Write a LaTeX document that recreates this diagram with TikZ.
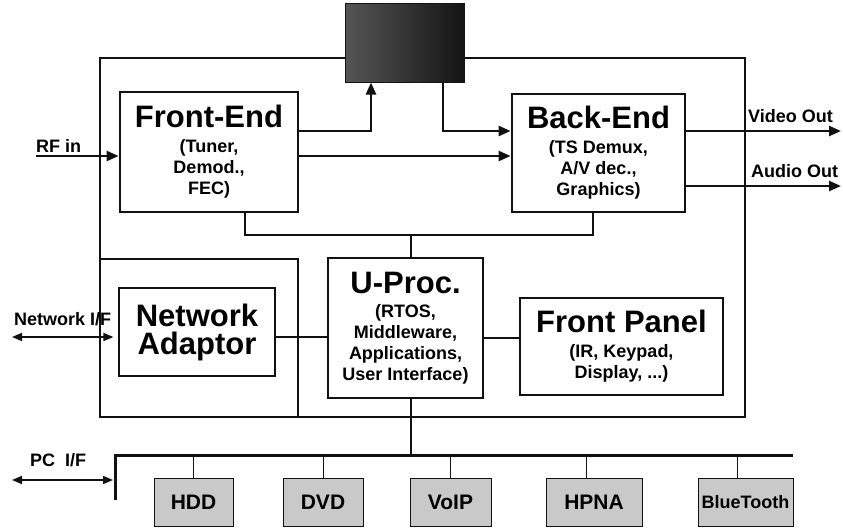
\documentclass[tikz,border=0pt]{standalone}
\usepackage{fontspec}
\setmainfont{Liberation Sans}
\usepackage{tikz}
\usetikzlibrary{arrows.meta, positioning}
\definecolor{screendark}{HTML}{141414}
\definecolor{screenlight}{HTML}{555555}
\definecolor{devgray}{HTML}{C9C9C9}
\definecolor{frameblack}{HTML}{111111}
\newcommand{\blkhead}[1]{{\fontsize{31}{31}\selectfont #1}}

\begin{document}
\begin{tikzpicture}[
  x=1pt, y=-1pt,
  every node/.style={font=\fontsize{18}{21}\selectfont\bfseries, align=center, inner sep=0pt},
  mainblock/.style={draw=frameblack, line width=2.8pt, fill=white},
  plainblock/.style={draw=frameblack, line width=1.2pt, fill=white},
  screenbox/.style={draw=screendark, line width=1pt, left color=screenlight, right color=screendark},
  devbox/.style={draw=frameblack, line width=1pt, fill=devgray, minimum height=48pt,
                 font=\fontsize{21}{21}\selectfont\bfseries},
  frameline/.style={draw=frameblack, line width=1.2pt},
  wire/.style={draw=frameblack, line width=2.4pt},
  bus/.style={draw=frameblack, line width=3pt},
  tap/.style={draw=frameblack, line width=1pt},
  arr/.style={wire, -{Triangle[length=12pt,width=10pt]}},
  ioarr/.style={draw=frameblack, line width=1.6pt,
                {Triangle[length=10pt,width=8pt]}-{Triangle[length=10pt,width=8pt]}},
  lbl/.style={font=\fontsize{18}{18}\selectfont\bfseries, anchor=base west}
]
\useasboundingbox (0,0) rectangle (843,528);

% set-top box outline
\draw[frameline] (100,58) rectangle (745,417);
\draw[frameline] (100,259) -| (298,417);

% blocks
\node[screenbox, minimum width=119pt, minimum height=79pt] (screen) at (404.5,42.5) {};
\node[mainblock, minimum width=178pt, minimum height=120pt] (fe) at (209,152)
  {\blkhead{Front-End}\\[4pt](Tuner,\\Demod.,\\FEC)};
\node[mainblock, minimum width=173pt, minimum height=118pt] (be) at (598.5,153)
  {\blkhead{Back-End}\\[4pt](TS Demux,\\A/V dec.,\\Graphics)};
\node[mainblock, minimum width=155pt, minimum height=140pt] (up) at (405.5,328)
  {\blkhead{U-Proc.}\\[3pt](RTOS,\\Middleware,\\Applications,\\User Interface)};
\node[plainblock, minimum width=156pt, minimum height=88pt,
      font=\fontsize{31}{28}\selectfont\bfseries] (na) at (197,332)
  {Network\\Adaptor};
\node[mainblock, minimum width=203pt, minimum height=97pt] (fp) at (621.5,346.5)
  {\blkhead{Front Panel}\\[4pt](IR, Keypad,\\Display, ...)};

% peripherals
\node[devbox, minimum width=79pt] (hdd) at (193.5,502) {HDD};
\node[devbox, minimum width=80pt] (dvd) at (323,502) {DVD};
\node[devbox, minimum width=81pt] (voip) at (450.5,502) {VoIP};
\node[devbox, minimum width=96pt] (hpna) at (594,502) {HPNA};
\node[devbox, minimum width=95pt, font=\fontsize{18}{18}\selectfont\bfseries] (bt) at (745.5,502) {BlueTooth};

% free ends
\coordinate (rfin) at (36,156);
\coordinate (vout) at (841,131);
\coordinate (aout) at (841,186);
\coordinate (netif) at (12,337);
\coordinate (pcif) at (12,480);
\coordinate (jn) at (411,235);
\coordinate (busL) at (115,455);
\coordinate (busR) at (793,455);
\coordinate (busB) at (115,500);

% labels
\node[lbl] (rflbl) at (36,152) {RF in};
\node[lbl] (vlbl) at (748,122) {Video Out};
\node[lbl] (albl) at (751,177) {Audio Out};
\node[lbl] (nlbl) at (14,325) {Network I/F};
\node[lbl] (pclbl) at (30,466) {PC\ \ I/F};

% signal path
\draw[arr] (rfin) -- (rfin -| fe.west);
\draw[arr] ([yshift=21pt]fe.east) -| ([xshift=-33.5pt]screen.south);
\draw[arr] ([xshift=38.5pt]screen.south) |- ([yshift=22pt]be.west);
\draw[arr] ([yshift=-4pt]fe.east) -- ([yshift=-4pt]fe.east -| be.west);
\draw[arr] ([yshift=22pt]be.east) -- (vout);
\draw[arr] ([yshift=-33pt]be.east) -- (aout);

% control links
\draw[wire] ([xshift=36pt]fe.south) |- ([xshift=-5.5pt]be.south |- jn) -- ([xshift=-5.5pt]be.south);
\draw[wire] (jn) -- (jn |- up.north);
\draw[wire] ([yshift=-5pt]na.east) -- ([yshift=-5pt]na.east -| up.west);
\draw[wire] ([yshift=-10pt]up.east) -- ([yshift=-10pt]up.east -| fp.west);
\draw[ioarr] (netif) -- ([xshift=-5pt]na.west |- netif);

% expansion bus
\draw[wire] ([xshift=5.5pt]up.south) -- ([xshift=5.5pt]up.south |- busL);
\draw[bus] (busB) -- (busL) -- (busR);
\draw[ioarr] (pcif) -- ([xshift=-2pt]busB |- pcif);
\draw[tap] (hdd.north) -- (hdd.north |- busL);
\draw[tap] (dvd.north) -- (dvd.north |- busL);
\draw[tap] (voip.north) -- (voip.north |- busL);
\draw[tap] ([xshift=-8pt]hpna.north) -- ([xshift=-8pt]hpna.north |- busL);
\draw[tap] ([xshift=-8.5pt]bt.north) -- ([xshift=-8.5pt]bt.north |- busL);
\end{tikzpicture}
\end{document}
